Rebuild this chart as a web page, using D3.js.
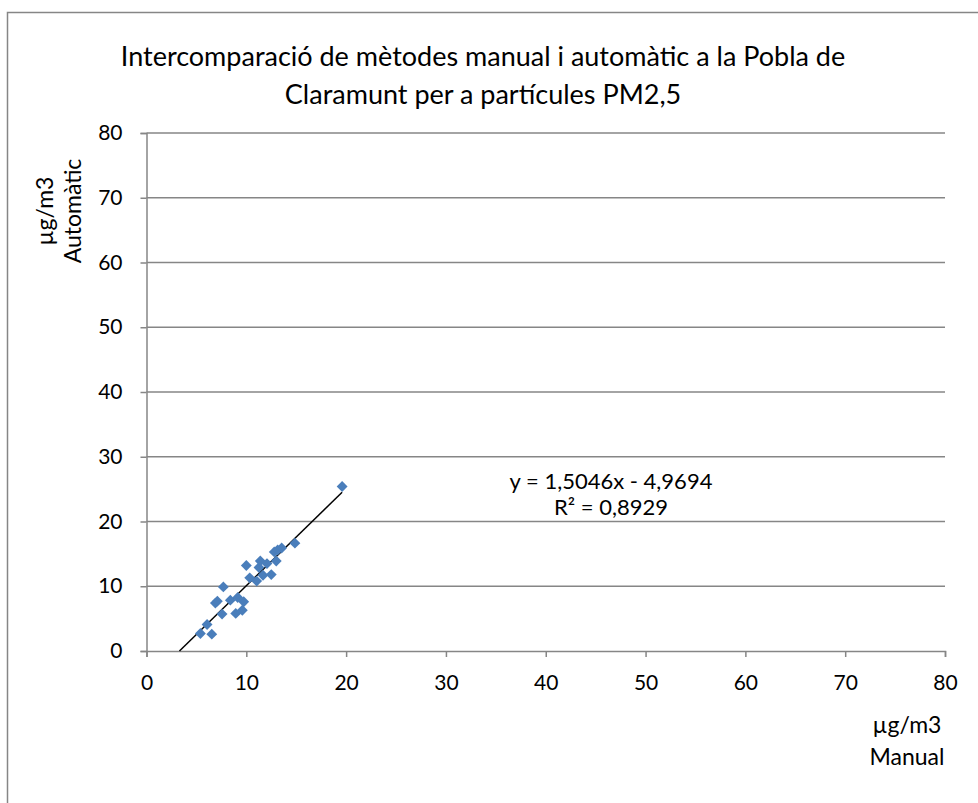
<!DOCTYPE html>
<html><head><meta charset="utf-8">
<script src="https://cdn.jsdelivr.net/npm/d3@7"></script>
<style>body{margin:0;background:#fff}svg{display:block}text{font-family:Lato,"Open Sans",sans-serif;fill:#000}</style>
</head><body><svg id="c" width="978" height="803"></svg>
<script>
const titleLines = ["Intercomparació de mètodes manual i automàtic a la Pobla de", "Claramunt per a partícules PM2,5"];
const manualX = [5.4, 6.07, 6.54, 6.9, 7.1, 7.57, 7.7, 8.4, 8.94, 9.14, 9.6, 9.74, 10.0, 10.34, 11.04, 11.27, 11.4, 11.67, 12.07, 12.5, 12.8, 13.0, 13.14, 13.54, 14.87, 19.6];
const automaticY = [2.7, 4.1, 2.6, 7.4, 7.7, 5.7, 9.9, 7.85, 5.8, 8.26, 6.3, 7.6, 13.2, 11.3, 10.8, 12.9, 13.9, 11.7, 13.5, 11.8, 15.3, 13.9, 15.6, 15.9, 16.66, 25.4];
const ticks = [0, 10, 20, 30, 40, 50, 60, 70, 80];
const slope = 1.5046, intercept = -4.9694;
const eqLines = ["y = 1,5046x - 4,9694", "R² = 0,8929"];
const yLabel = ["µg/m3", "Automàtic"];
const xLabel = ["µg/m3", "Manual"];

const svg = d3.select("#c");
svg.append("rect").attr("x", 7.5).attr("y", 12.5).attr("width", 1000).attr("height", 900)
  .attr("fill", "#fff").attr("stroke", "#868686").attr("stroke-width", 1.5);

const x = d3.scaleLinear().domain([0, 80]).range([146.5, 945]);
const y = d3.scaleLinear().domain([0, 80]).range([651, 133]);
const grey = "#868686";

svg.append("g").selectAll("line").data(ticks.slice(1)).join("line")
  .attr("x1", x(0)).attr("x2", x(80)).attr("y1", d => y(d)).attr("y2", d => y(d))
  .attr("stroke", grey).attr("stroke-width", 1.5);

const xa = svg.append("g").attr("transform", `translate(0,${y(0)})`)
  .call(d3.axisBottom(x).tickValues(ticks).tickSize(6).tickPadding(18));
const ya = svg.append("g").attr("transform", `translate(${x(0)},0)`)
  .call(d3.axisLeft(y).tickValues(ticks).tickSize(6).tickPadding(18));
[xa, ya].forEach(a => {
  a.attr("font-size", null).attr("font-family", null);
  a.selectAll("path,line").attr("stroke", grey).attr("stroke-width", 1.5);
  a.selectAll("text").style("font-size", "21px").style("font-family", "Lato, sans-serif").attr("fill", "#000");
});

const x0 = -intercept / slope, x1 = d3.max(manualX);
svg.append("line").attr("x1", x(x0)).attr("y1", y(slope * x0 + intercept))
  .attr("x2", x(x1)).attr("y2", y(slope * x1 + intercept))
  .attr("stroke", "#000").attr("stroke-width", 1.5);

const sym = d3.symbol().type(d3.symbolDiamond2).size(75);
svg.append("g").selectAll("path").data(manualX.map((v, i) => [v, automaticY[i]])).join("path")
  .attr("d", sym).attr("transform", d => `translate(${x(d[0])},${y(d[1])})`)
  .attr("fill", "#4a7ebb");

svg.append("g").selectAll("text").data(titleLines).join("text")
  .attr("x", 483).attr("y", (d, i) => 66 + i * 38).attr("text-anchor", "middle")
  .style("font-size", "27px").text(d => d);

svg.append("g").selectAll("text").data(eqLines).join("text")
  .attr("x", 611).attr("y", (d, i) => 489 + i * 26).attr("text-anchor", "middle")
  .style("font-size", "22px").text(d => d);

svg.append("g").attr("transform", "translate(0,211) rotate(-90)")
  .selectAll("text").data(yLabel).join("text")
  .attr("x", 0).attr("y", (d, i) => 53 + i * 28).attr("text-anchor", "middle")
  .style("font-size", "23px").text(d => d);

svg.append("g").selectAll("text").data(xLabel).join("text")
  .attr("x", 907).attr("y", (d, i) => 733 + i * 32).attr("text-anchor", "middle")
  .style("font-size", "23px").text(d => d);
</script></body></html>
